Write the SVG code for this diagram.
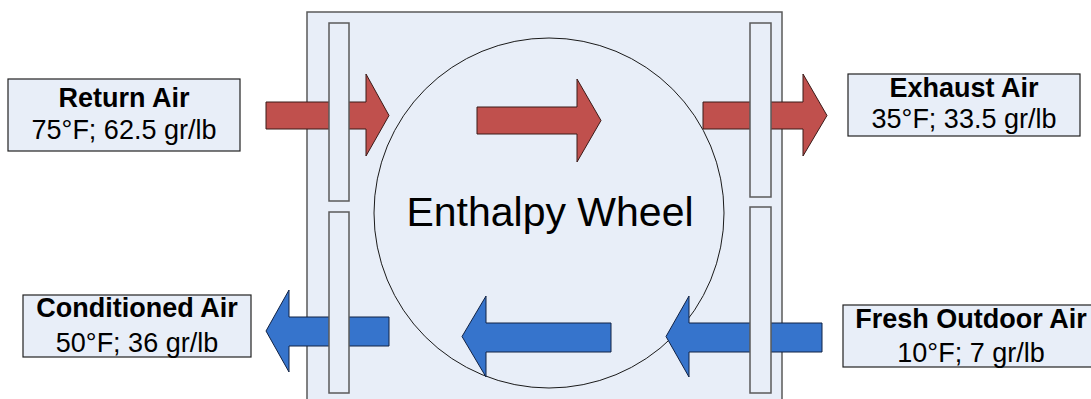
<svg xmlns="http://www.w3.org/2000/svg" width="1091" height="399" viewBox="0 0 1091 399">
<style>
.bg{fill:#E8EEF8;stroke:#5a5a5a;stroke-width:1.5}
.strip{fill:#E8EEF8;stroke:#5a5a5a;stroke-width:1.5}
.wheel{fill:#E8EEF8;stroke:#1a1a1a;stroke-width:1}
.lbl{fill:#E8EEF8;stroke:#222;stroke-width:1.2}
.red{fill:#C0504D;stroke:#3a1a18;stroke-width:1}
.blue{fill:#3674CC;stroke:#112244;stroke-width:1}
text{font-family:"Liberation Sans",Arial,sans-serif;fill:#000;text-anchor:middle}
.b{font-weight:bold;font-size:27px}
.n{font-size:27px}
</style>
<g id="housing">
<rect class="bg" x="307" y="12" width="475" height="400"/>
</g>
<g id="wheel">
<circle class="wheel" cx="549" cy="213" r="175"/>
<text x="550" y="226" style="font-size:41px">Enthalpy Wheel</text>
</g>
<g id="connectors">
<polygon class="red" points="266,102 366,102 366,74 389,115.5 366,156 366,129 266,129"/>
<polygon class="red" points="477,107 577,107 577,79 601,120.5 577,162 577,134 477,134"/>
<polygon class="red" points="703,102 803,102 803,74 827,115.5 803,156 803,129 703,129"/>
<polygon class="blue" points="389,317 289,317 289,290 266,331 289,372 289,346 389,346"/>
<polygon class="blue" points="611,323 486,323 486,296 462,336.5 486,377 486,352 611,352"/>
<polygon class="blue" points="822,323 689,323 689,296 666,336.5 689,377 689,352 822,352"/>
</g>
<g id="strips">
<rect class="strip" x="329" y="23" width="20" height="178"/>
<rect class="strip" x="329" y="212" width="20" height="181"/>
<rect class="strip" x="750" y="23" width="21" height="174"/>
<rect class="strip" x="750" y="207" width="21" height="186"/>
</g>
<g id="return-air">
<rect class="lbl" x="8" y="79" width="232" height="72"/>
<text class="b" x="124" y="107">Return Air</text>
<text class="n" x="124" y="139">75°F; 62.5 gr/lb</text>
</g>
<g id="exhaust-air">
<rect class="lbl" x="848" y="74" width="232" height="62"/>
<text class="b" x="964" y="97">Exhaust Air</text>
<text class="n" x="964" y="128">35°F; 33.5 gr/lb</text>
</g>
<g id="conditioned-air">
<rect class="lbl" x="23" y="295" width="228" height="62"/>
<text class="b" x="137" y="317">Conditioned Air</text>
<text class="n" x="137" y="352">50°F; 36 gr/lb</text>
</g>
<g id="fresh-outdoor-air">
<rect class="lbl" x="843" y="305" width="260" height="62"/>
<text class="b" x="971" y="328">Fresh Outdoor Air</text>
<text class="n" x="971" y="362">10°F; 7 gr/lb</text>
</g>
</svg>
